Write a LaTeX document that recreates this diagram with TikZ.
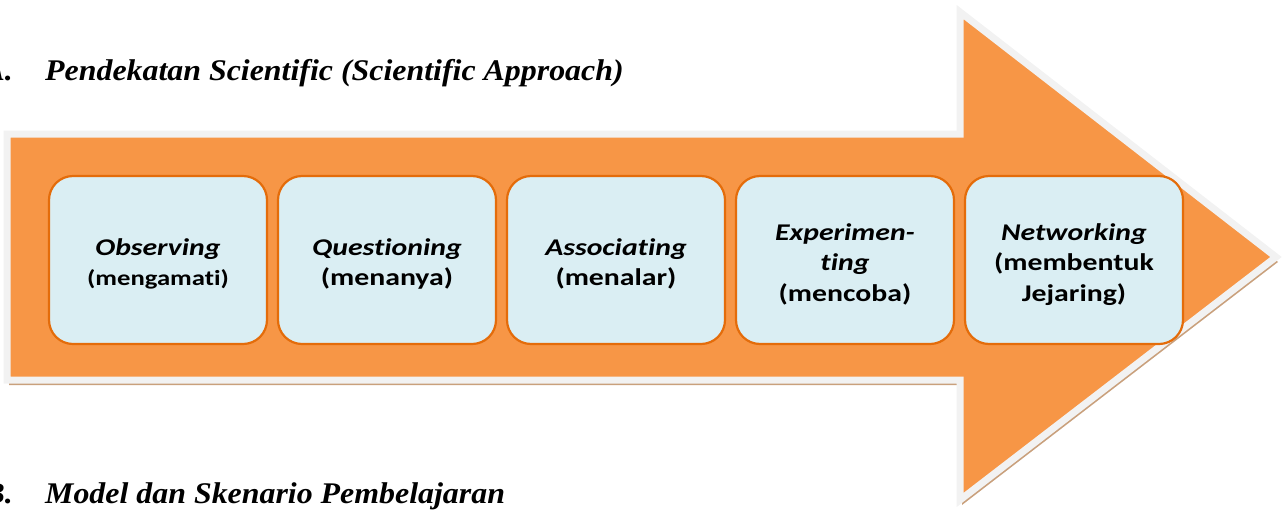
\documentclass[tikz,border=0pt]{standalone}
\usepackage{fontspec}
\usepackage{graphicx}
\setmainfont{Liberation Serif}
\newfontfamily\boxfont[Ligatures=NoCommon]{Carlito}
\definecolor{arroworange}{HTML}{F79646}
\definecolor{arrowrim}{HTML}{F2F2F2}
\definecolor{arrowshadow}{HTML}{C9A07C}
\definecolor{boxfill}{HTML}{DAEEF3}
\definecolor{boxrim}{HTML}{E46C0A}
\newcommand{\boxlines}[1]{\scalebox{1.24}[1]{\begin{tabular}{@{}c@{}}#1\end{tabular}}}
\newcommand{\headtext}[1]{\scalebox{1.063}[1]{#1}}
\begin{document}
\begin{tikzpicture}[x=1pt,y=-1pt,
  stepbox/.style={draw=boxrim,line width=2.2pt,fill=boxfill,rounded corners=24pt,
    minimum width=218pt,minimum height=168pt,inner sep=0pt},
  steptext/.style={inner sep=0pt,align=center,
    font=\boxfont\bfseries\fontsize{24}{30.5}\selectfont},
  heading/.style={anchor=base west,inner sep=0pt,font=\bfseries\itshape\fontsize{30}{34}\selectfont}]
\useasboundingbox (0,0) rectangle (1285,512);
% shadow
\fill[arrowshadow,xshift=2pt,yshift=-5pt] (7,134) -- (960,134) -- (960,12) -- (1276,257) -- (960,500) -- (960,380) -- (7,380) -- cycle;
% arrow
\draw[arrowrim,line width=7pt,fill=arroworange,line join=miter] (7,134) -- (960,134) -- (960,12) -- (1276,257) -- (960,500) -- (960,380) -- (7,380) -- cycle;
% boxes
\node[stepbox] (obs) at (158,260) {};
\node[stepbox] (que) at (387,260) {};
\node[stepbox] (ass) at (616,260) {};
\node[stepbox] (exp) at (845,260) {};
\node[stepbox] (net) at (1074,260) {};
\node[steptext] (tobs) at ([yshift=-4.5pt]obs.center) {\boxlines{\textit{Observing}\\{\fontsize{21.5}{28}\selectfont(mengamati)}}};
\node[steptext] (tque) at ([yshift=-4.5pt]que.center) {\boxlines{\textit{Questioning}\\(menanya)}};
\node[steptext] (tass) at ([yshift=-4.5pt]ass.center) {\boxlines{\textit{Associating}\\(menalar)}};
\node[steptext] (texp) at ([yshift=-4.5pt]exp.center) {\boxlines{\textit{Experimen-}\\\textit{ting}\\(mencoba)}};
\node[steptext] (tnet) at ([yshift=-4.5pt]net.center) {\boxlines{\textit{Networking}\\(membentuk\\Jejaring)}};
% headings
\node[heading,anchor=base east] (la) at (13,80) {\headtext{A.}};
\node[heading] (ta) at (45,80) {\headtext{Pendekatan Scientific (Scientific Approach)}};
\node[heading,anchor=base east] (lb) at (13,503) {\headtext{B.}};
\node[heading] (tb) at (45,503) {\headtext{Model dan Skenario Pembelajaran}};
\end{tikzpicture}
\end{document}
